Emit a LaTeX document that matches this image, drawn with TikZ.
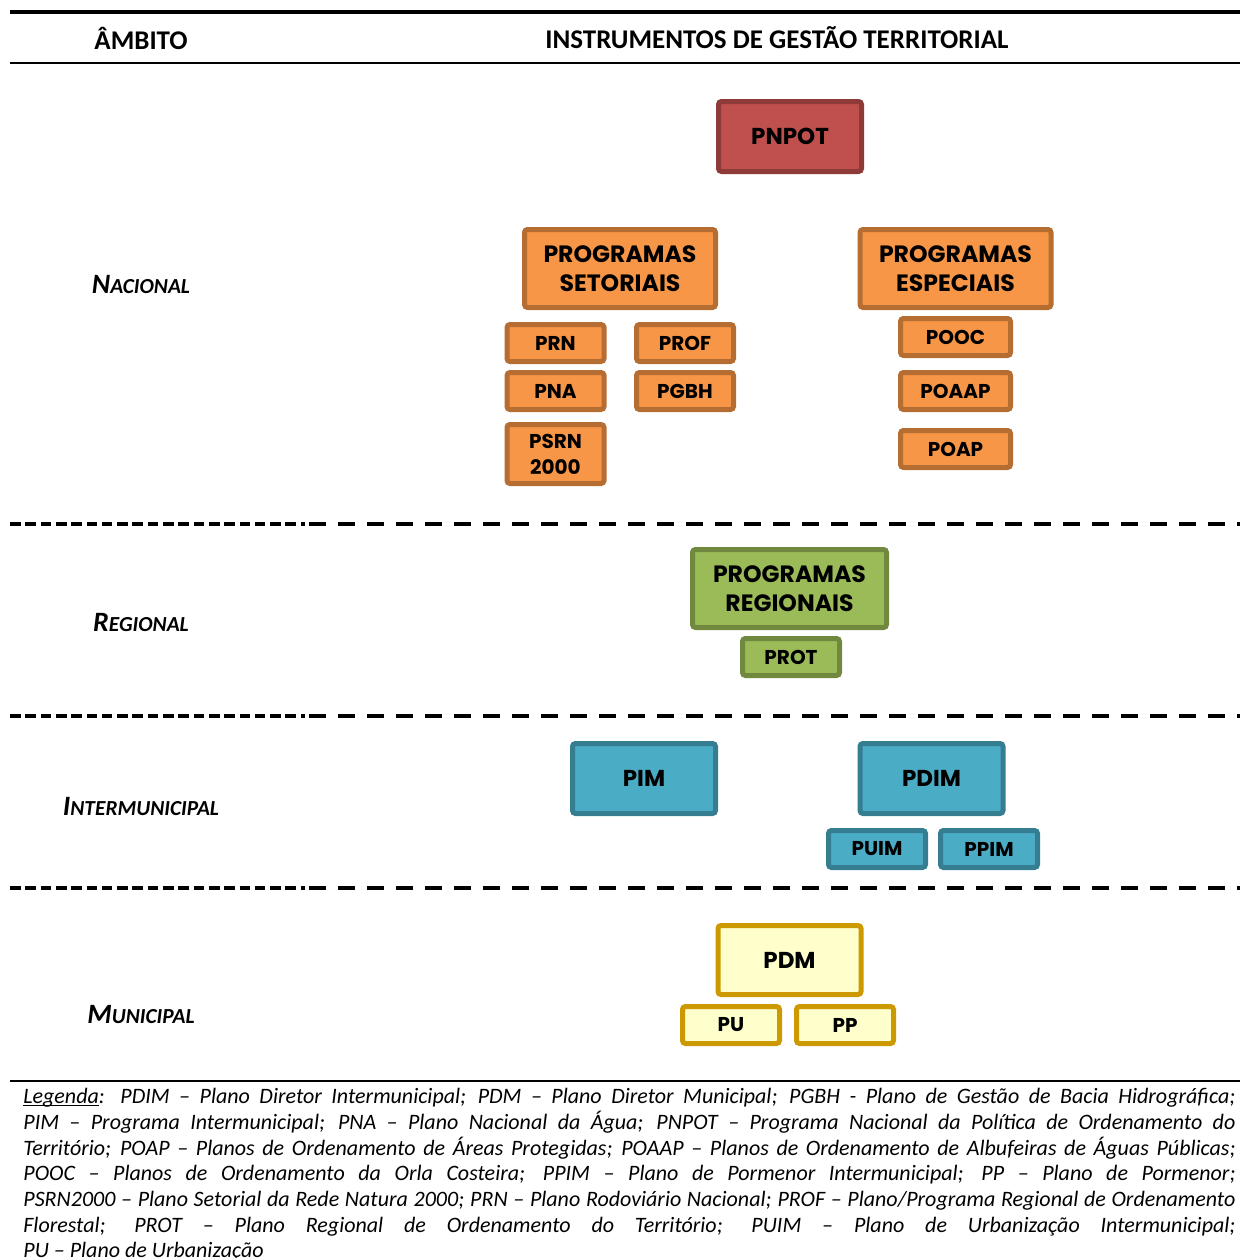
\documentclass[tikz,border=0pt]{standalone}
\usepackage{fontspec}
\setmainfont{Carlito}
\newfontfamily\boxfont{Poppins}

\definecolor{pnpotfill}{HTML}{C0504D}
\definecolor{pnpotline}{HTML}{8E3A38}
\definecolor{nacfill}{HTML}{F79646}
\definecolor{nacline}{HTML}{B66D31}
\definecolor{regfill}{HTML}{9BBB59}
\definecolor{regline}{HTML}{71893F}
\definecolor{intfill}{HTML}{4BACC6}
\definecolor{intline}{HTML}{357D91}
\definecolor{munfill}{HTML}{FFFFCC}
\definecolor{munline}{HTML}{CC9900}

\tikzset{
  plano/.style={draw, line width=2.5pt, rounded corners=1.5pt, inner sep=0pt, align=center,
    font=\boxfont\bfseries\fontsize{11.5}{14.5}\selectfont},
  pequeno/.style={plano, minimum width=48.5pt, minimum height=18.5pt,
    font=\boxfont\bfseries\fontsize{10}{13}\selectfont},
  grande/.style={plano, minimum width=71.5pt, minimum height=35pt},
  programa/.style={plano, minimum width=95.5pt, minimum height=39pt,
    font=\boxfont\bfseries\fontsize{11.8}{14.5}\selectfont},
  nacional/.style={fill=nacfill, draw=nacline},
  regional/.style={fill=regfill, draw=regline},
  intermun/.style={fill=intfill, draw=intline},
  municipal/.style={fill=munfill, draw=munline},
  titulo/.style={font=\bfseries\fontsize{13.5}{16}\selectfont},
  ambito/.style={font=\bfseries\itshape\fontsize{14}{16}\selectfont},
  sepesq/.style={line width=2pt, dash pattern=on 5.3pt off 2.35pt},
  sepdir/.style={line width=2pt, dash pattern=on 8.5pt off 6pt},
  legenda/.style={inner sep=0pt, text width=606pt, align=justify,
    font=\itshape\fontsize{11}{12.85}\selectfont}
}
\newcommand{\nivel}[2]{#1{\fontsize{10.7}{12}\selectfont #2}}
\newcommand{\sublinha}[1]{\setbox0\hbox{#1}\rlap{\rule[-1.4pt]{\wd0}{0.6pt}}#1}

\begin{document}
\begin{tikzpicture}[x=0.5pt, y=-0.5pt]
  \useasboundingbox (0,0) rectangle (1240,1258);
  \draw[line width=2.3pt] (10,12) -- (1240,12);
  \draw[line width=1.2pt] (10,63) -- (1240,63);
  \node[titulo] (hamb) at (141,38) {ÂMBITO};
  \node[titulo] (hinst) at (777,38) {INSTRUMENTOS DE GESTÃO TERRITORIAL};

  \node[ambito] (lnac) at (141,284) {\nivel{N}{ACIONAL}};
  \node[ambito] (lreg) at (141,622) {\nivel{R}{EGIONAL}};
  \node[ambito] (lint) at (141,806) {\nivel{I}{NTERMUNICIPAL}};
  \node[ambito] (lmun) at (141,1014) {\nivel{M}{UNICIPAL}};

  \foreach \y in {524,716,888} {
    \draw[sepesq] (10,\y) -- (305,\y);
    \draw[sepdir] (309,\y) -- (1240,\y);
  }

  \node[grande, fill=pnpotfill, draw=pnpotline] (pnpot) at (790,136.5) {PNPOT};
  \node[programa, nacional] (pset) at (620,268.5) {PROGRAMAS\\SETORIAIS};
  \node[programa, nacional] (pesp) at (955.5,268.5) {PROGRAMAS\\ESPECIAIS};
  \node[pequeno, nacional] (prn) at (555.5,343) {PRN};
  \node[pequeno, nacional] (prof) at (685,343) {PROF};
  \node[pequeno, nacional] (pna) at (555.5,391) {PNA};
  \node[pequeno, nacional] (pgbh) at (685,391) {PGBH};
  \node[pequeno, nacional, minimum height=29.5pt] (psrn) at (555.5,454) {PSRN\\2000};
  \node[pequeno, nacional, minimum width=55pt] (pooc) at (955.5,337) {POOC};
  \node[pequeno, nacional, minimum width=55pt] (poaap) at (955.5,391) {POAAP};
  \node[pequeno, nacional, minimum width=55pt] (poap) at (955.5,449) {POAP};

  \node[programa, regional, minimum width=97pt] (preg) at (789.5,588.5) {PROGRAMAS\\REGIONAIS};
  \node[pequeno, regional] (prot) at (791,657) {PROT};

  \node[grande, intermun] (pim) at (644,778.5) {PIM};
  \node[grande, intermun] (pdim) at (931.5,778.5) {PDIM};
  \node[pequeno, intermun] (puim) at (877,849) {PUIM};
  \node[pequeno, intermun] (ppim) at (989,849) {PPIM};

  \node[grande, municipal, minimum height=34.5pt] (pdm) at (789.5,960) {PDM};
  \node[pequeno, municipal] (pu) at (731,1025) {PU};
  \node[pequeno, municipal] (pp) at (845,1025) {PP};

  \draw[line width=1pt] (10,1081) -- (1240,1081);
  \node[legenda, anchor=north west] (leg) at (23,1088) {\sublinha{Legenda}: PDIM – Plano Diretor Intermunicipal; PDM – Plano Diretor Municipal; PGBH - Plano de Gestão de Bacia Hidrográfica;\linebreak
    PIM – Programa Intermunicipal; PNA – Plano Nacional da Água; PNPOT – Programa Nacional da Política de Ordenamento do\linebreak
    Território; POAP – Planos de Ordenamento de Áreas Protegidas; POAAP – Planos de Ordenamento de Albufeiras de Águas Públicas;\linebreak
    POOC – Planos de Ordenamento da Orla Costeira; PPIM – Plano de Pormenor Intermunicipal; PP – Plano de Pormenor;\linebreak
    PSRN2000 – Plano Setorial da Rede Natura 2000; PRN – Plano Rodoviário Nacional; PROF – Plano/Programa Regional de Ordenamento\linebreak
    Florestal; PROT – Plano Regional de Ordenamento do Território; PUIM – Plano de Urbanização Intermunicipal;\linebreak
    PU – Plano de Urbanização};
\end{tikzpicture}
\end{document}
